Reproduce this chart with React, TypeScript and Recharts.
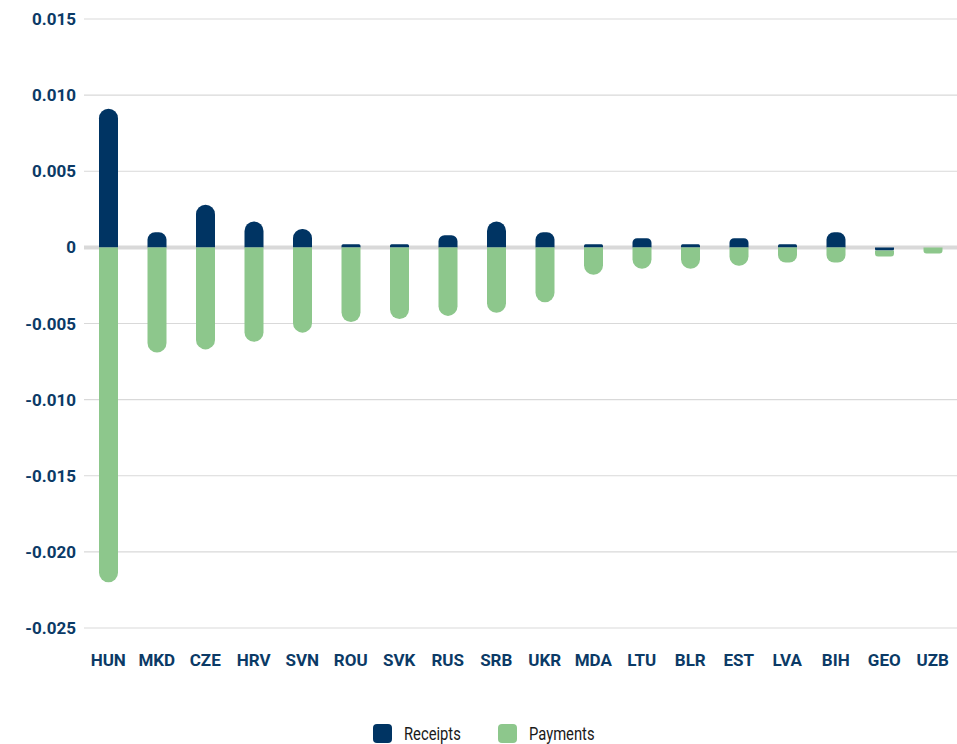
import React from "react";
import { BarChart, Bar, XAxis, YAxis, CartesianGrid, Legend } from "recharts";

const countries = [
  "HUN", "MKD", "CZE", "HRV", "SVN", "ROU", "SVK", "RUS", "SRB",
  "UKR", "MDA", "LTU", "BLR", "EST", "LVA", "BIH", "GEO", "UZB",
];
const receipts = [
  0.0091, 0.001, 0.0028, 0.0017, 0.0012, 0.0002, 0.0002, 0.0008, 0.0017,
  0.001, 0.0002, 0.0006, 0.0002, 0.0006, 0.0002, 0.001, -0.0002, 0,
];
const payments = [
  -0.022, -0.0069, -0.0067, -0.0062, -0.0056, -0.0049, -0.0047, -0.0045, -0.0043,
  -0.0036, -0.0018, -0.0014, -0.0014, -0.0012, -0.001, -0.001, -0.0004, -0.0004,
];
const yTicks = [0.015, 0.01, 0.005, 0, -0.005, -0.01, -0.015, -0.02, -0.025];

const NAVY = "#003463";
const GREEN = "#8dc78c";
const GRID = "#d9d9d9";
const LABEL = "#0b3a66";

const data = countries.map((c, i) => ({ country: c, receipts: receipts[i], payments: payments[i] }));

const fmtY = (v: number) => (v === 0 ? "0" : v.toFixed(3));

const tickStyle = { fontSize: 17, fontWeight: 700, fill: LABEL, fontFamily: "Roboto, sans-serif" };

// grid line for the zero tick is drawn heavier, underneath the bars
const zeroIdx = yTicks.indexOf(0);
const gridLine = (props: any) => (
  <line
    key={props.key ?? `h-${props.index}`}
    x1={props.x1}
    x2={props.x2}
    y1={props.y1}
    y2={props.y2}
    stroke={GRID}
    strokeWidth={props.index === zeroIdx ? 4 : 1.2}
  />
);

function LegendBox() {
  const items = [
    { label: "Receipts", color: NAVY },
    { label: "Payments", color: GREEN },
  ];
  return (
    <div style={{ display: "flex", justifyContent: "center", height: 22, alignItems: "center", paddingLeft: 38 }}>
      {items.map((it) => (
        <div key={it.label} style={{ display: "flex", alignItems: "center", width: 125 }}>
          <span
            style={{ display: "inline-block", width: 19, height: 19, borderRadius: 4, background: it.color, marginRight: 12 }}
          />
          <span
            style={{
              display: "inline-block",
              fontFamily: "Roboto, sans-serif",
              fontSize: 18,
              color: "#1a1a1a",
              transform: "scaleX(0.82)",
              transformOrigin: "left center",
              whiteSpace: "nowrap",
            }}
          >
            {it.label}
          </span>
        </div>
      ))}
    </div>
  );
}

export default function App() {
  return (
    <div style={{ position: "absolute", left: 0, top: 0, width: 957, height: 744, background: "#fff" }}>
      <BarChart
        width={957}
        height={744}
        data={data}
        stackOffset="sign"
        barSize={19}
        margin={{ top: 19, right: 0, left: 0, bottom: 0 }}
      >
        <CartesianGrid vertical={false} horizontal={gridLine} />
        <XAxis
          dataKey="country"
          axisLine={false}
          tickLine={false}
          interval={0}
          tick={tickStyle}
          tickMargin={20}
          height={94}
        />
        <YAxis
          domain={[-0.025, 0.015]}
          ticks={yTicks}
          tickFormatter={fmtY}
          axisLine={false}
          tickLine={false}
          tick={tickStyle}
          width={84}
        />
        <Legend verticalAlign="bottom" content={() => <LegendBox />} />
        <Bar dataKey="receipts" stackId="a" fill={NAVY} radius={[10, 10, 0, 0]} isAnimationActive={false} />
        <Bar dataKey="payments" stackId="a" fill={GREEN} radius={[10, 10, 0, 0]} isAnimationActive={false} />
      </BarChart>
    </div>
  );
}
